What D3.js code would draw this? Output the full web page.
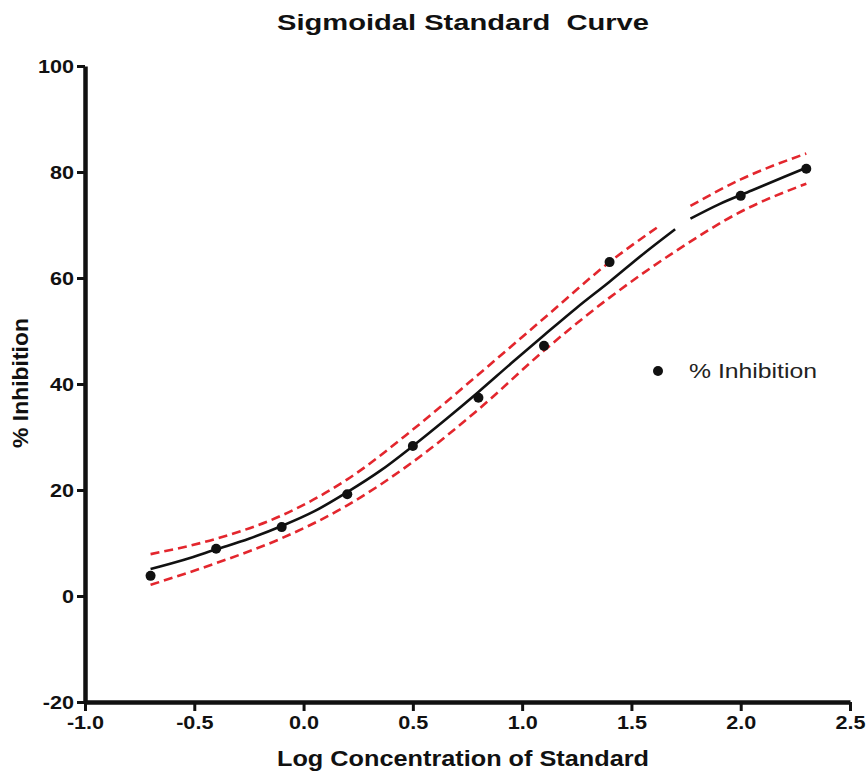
<!DOCTYPE html>
<html>
<head>
<meta charset="utf-8">
<script src="https://cdn.jsdelivr.net/npm/d3@7"></script>
<style>
  body { margin: 0; background: #fff; }
  text { font-family: "Liberation Sans", Arial, sans-serif; }
</style>
</head>
<body>
<script>
// measured points
var logConc = [-0.7, -0.4, -0.1, 0.2, 0.5, 0.8, 1.1, 1.4, 2.0, 2.3];
var inhibition = [3.8, 8.9, 13.0, 19.2, 28.3, 37.4, 47.2, 63.0, 75.5, 80.6];

// fitted curve (two pieces, there is a gap near 1.7)
var fitX1 = [-0.7, -0.55, -0.4, -0.25, -0.1, 0.05, 0.2, 0.35, 0.5, 0.65, 0.8, 0.95, 1.1, 1.25, 1.4, 1.55, 1.7];
var fitY1 = [5.1, 6.8, 8.8, 10.8, 13.2, 16.0, 19.6, 23.6, 28.3, 33.3, 38.5, 43.9, 49.2, 54.4, 59.3, 64.4, 69.2];
var fitX2 = [1.77, 1.9, 2.05, 2.2, 2.3];
var fitY2 = [71.2, 73.9, 76.5, 79.1, 80.8];

// upper confidence band (also broken), lower band
var upX1 = [-0.7, -0.4, -0.1, 0.2, 0.5, 0.8, 1.1, 1.4, 1.62];
var upY1 = [7.9, 10.8, 15.2, 22.0, 31.4, 41.8, 52.4, 63.0, 69.6];
var upX2 = [1.77, 2.0, 2.3];
var upY2 = [73.6, 78.6, 83.5];
var loX = [-0.7, -0.4, -0.1, 0.2, 0.5, 0.8, 1.1, 1.4, 1.7, 2.0, 2.3];
var loY = [2.1, 6.2, 10.9, 17.1, 25.3, 35.2, 46.3, 56.3, 65.0, 72.5, 77.8];

var xTicks = [-1.0, -0.5, 0.0, 0.5, 1.0, 1.5, 2.0, 2.5];
var yTicks = [-20, 0, 20, 40, 60, 80, 100];

var width = 866, height = 774;

var svg = d3.select("body").append("svg")
    .attr("width", width)
    .attr("height", height);

svg.append("rect").attr("width", width).attr("height", height).attr("fill", "#fff");

var x = d3.scaleLinear().domain([-1, 2.5]).range([85, 850]);
var y = d3.scaleLinear().domain([-20, 100]).range([702, 66]);

function pairs(xs, ys) {
  return xs.map(function(v, i) { return [v, ys[i]]; });
}

// stretch text horizontally, the original lettering is wide
function stretch(sel, k) {
  sel.each(function() {
    var len = this.getComputedTextLength();
    d3.select(this).attr("textLength", len * k).attr("lengthAdjust", "spacingAndGlyphs");
  });
}

// axes
var yAxis = svg.append("g")
    .attr("transform", "translate(85,0)")
    .call(d3.axisLeft(y).tickValues(yTicks).tickSize(8).tickSizeOuter(0).tickPadding(3)
      .tickFormat(function(d) { return String(d); }));

var xAxis = svg.append("g")
    .attr("transform", "translate(0,702)")
    .call(d3.axisBottom(x).tickValues(xTicks).tickSize(9).tickSizeOuter(0).tickPadding(5)
      .tickFormat(function(d) { return d.toFixed(1); }));

[yAxis, xAxis].forEach(function(ax) {
  ax.select(".domain").attr("stroke", "#111").attr("stroke-width", 4.5);
  ax.selectAll(".tick line").attr("stroke", "#111").attr("stroke-width", 3);
  ax.selectAll(".tick text")
    .attr("fill", "#111")
    .style("font-family", "'Liberation Sans', Arial, sans-serif")
    .style("font-size", "18px")
    .style("font-weight", "bold");
});
yAxis.selectAll(".tick text").attr("dy", "0.36em");
stretch(yAxis.selectAll(".tick text"), 1.2);
stretch(xAxis.selectAll(".tick text"), 1.2);

// bands and fit
var line = d3.line()
    .x(function(d) { return x(d[0]); })
    .y(function(d) { return y(d[1]); })
    .curve(d3.curveMonotoneX);

[pairs(upX1, upY1), pairs(upX2, upY2), pairs(loX, loY)].forEach(function(seg) {
  svg.append("path")
    .attr("d", line(seg))
    .attr("fill", "none")
    .attr("stroke", "#e3262d")
    .attr("stroke-width", 2.6)
    .attr("stroke-dasharray", "9,5");
});

[pairs(fitX1, fitY1), pairs(fitX2, fitY2)].forEach(function(seg) {
  svg.append("path")
    .attr("d", line(seg))
    .attr("fill", "none")
    .attr("stroke", "#111")
    .attr("stroke-width", 2.6);
});

// points
svg.selectAll(".pt")
  .data(pairs(logConc, inhibition))
  .enter().append("circle")
  .attr("class", "pt")
  .attr("cx", function(d) { return x(d[0]); })
  .attr("cy", function(d) { return y(d[1]); })
  .attr("r", 5)
  .attr("fill", "#111");

// legend
svg.append("circle").attr("cx", 658).attr("cy", 371).attr("r", 5).attr("fill", "#111");
svg.append("text")
  .attr("x", 689).attr("y", 378)
  .attr("font-size", "20px")
  .attr("fill", "#222")
  .attr("textLength", 128).attr("lengthAdjust", "spacingAndGlyphs")
  .text("% Inhibition");

// titles
svg.append("text")
  .attr("x", 463).attr("y", 30)
  .attr("text-anchor", "middle")
  .attr("font-size", "22px")
  .attr("font-weight", "bold")
  .attr("fill", "#111")
  .style("white-space", "pre")
  .attr("textLength", 372).attr("lengthAdjust", "spacingAndGlyphs")
  .text("Sigmoidal Standard  Curve");

svg.append("text")
  .attr("x", 463).attr("y", 766)
  .attr("text-anchor", "middle")
  .attr("font-size", "22px")
  .attr("font-weight", "bold")
  .attr("fill", "#111")
  .attr("textLength", 372).attr("lengthAdjust", "spacingAndGlyphs")
  .text("Log Concentration of Standard");

svg.append("text")
  .attr("transform", "translate(28,383) rotate(-90)")
  .attr("text-anchor", "middle")
  .attr("font-size", "22px")
  .attr("font-weight", "bold")
  .attr("fill", "#111")
  .attr("textLength", 130).attr("lengthAdjust", "spacingAndGlyphs")
  .text("% Inhibition");
</script>
</body>
</html>
